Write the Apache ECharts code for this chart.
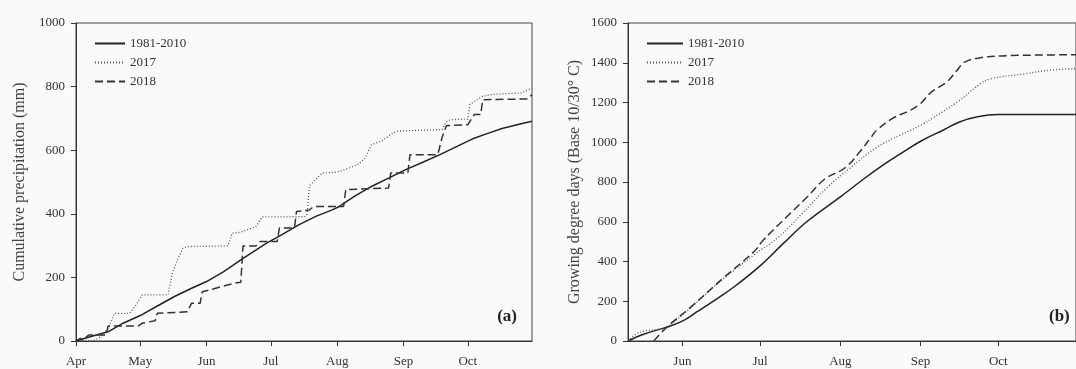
<!DOCTYPE html>
<html>
<head>
<meta charset="utf-8">
<script src="https://cdn.jsdelivr.net/npm/echarts@6/dist/echarts.min.js"></script>
<style>
html,body{margin:0;padding:0;background:#fcfaf9;}
#c{width:1076px;height:369px;}
</style>
</head>
<body>
<div id="c"></div>
<script>
// x values = days counted from 1 April (0 = Apr 1, 213 = Oct 31)
var monthStarts = [0, 30, 61, 91, 122, 153, 183];
var monthNames = ['Apr', 'May', 'Jun', 'Jul', 'Aug', 'Sep', 'Oct'];
var seriesNames = ['1981-2010', '2017', '2018'];

// (a) Cumulative precipitation (mm)
var precipNormal = [[0,0],[7,14],[15,29],[22,56],[30,80],[38,110],[46,140],[54,166],[61,187],[69,218],[77,255],[89,308],[95,330],[104,365],[112,392],[120,413],[123,423],[130,455],[138,486],[146,512],[154,539],[162,562],[170,586],[178,612],[185,635],[192,652],[199,668],[206,680],[213,691]];
var precip2017 = [[0,0],[8,0],[12,15],[15,40],[18,87],[25,87],[28,113],[31,145],[43,145],[45,213],[47,250],[50,292],[52,297],[71,299],[73,339],[77,342],[84,360],[87,390],[107,391],[108,400],[109,488],[115,528],[121,530],[126,540],[132,556],[135,575],[138,617],[143,630],[148,654],[150,660],[171,665],[173,690],[175,696],[183,698],[184,744],[188,762],[190,770],[195,776],[208,780],[213,796]];
var precip2018 = [[0,0],[2,8],[3,3],[6,19],[14,19],[15,47],[29,47],[31,56],[37,64],[38,87],[52,92],[54,119],[58,119],[59,155],[62,160],[74,182],[77,185],[78,299],[84,299],[86,313],[94,313],[95,355],[102,355],[103,407],[109,412],[111,423],[125,423],[126,476],[146,481],[147,528],[155,528],[156,586],[169,586],[171,640],[173,677],[183,680],[186,712],[189,712],[190,759],[211,761],[213,775]];

// (b) Growing degree days (Base 10/30 °C)
var gddNormal = [[40,0],[46,34],[55,70],[61,100],[67,150],[74,210],[81,273],[91,378],[100,491],[109,600],[122,725],[131,815],[139,890],[145,940],[153,1005],[162,1063],[168,1102],[175,1128],[183,1139],[213,1139]];
var gdd2017 = [[40,0],[43,34],[46,50],[52,59],[55,70],[64,165],[72,260],[77,315],[89,437],[98,521],[107,638],[117,773],[126,873],[136,974],[145,1035],[154,1092],[158,1125],[168,1210],[176,1294],[180,1319],[193,1344],[204,1364],[213,1370]];
var gdd2018 = [[50,0],[55,70],[64,168],[77,319],[89,454],[92,504],[101,621],[109,722],[116,815],[124,873],[130,960],[134,1027],[136,1060],[142,1119],[149,1161],[153,1195],[157,1251],[163,1302],[167,1361],[170,1403],[176,1425],[187,1436],[213,1440]];

var FONT = 'Liberation Serif';
var chart = echarts.init(document.getElementById('c'));

function monthLabel(v){ var i = monthStarts.indexOf(v); return i >= 0 ? monthNames[i] : ''; }

function xAxis(gi, min, ticks){
  return {
    type: 'value', gridIndex: gi, min: min, max: 213,
    axisLine: {show: true, onZero: false, lineStyle: {color: '#333', width: 1}},
    axisTick: {show: true, inside: false, length: 5, customValues: ticks, lineStyle: {color: '#333'}},
    axisLabel: {show: true, customValues: ticks, formatter: monthLabel, margin: 14,
      color: '#333', fontFamily: FONT, fontSize: 13},
    splitLine: {show: false}
  };
}
function yAxis(gi, max, title, gap){
  return {
    type: 'value', gridIndex: gi, min: 0, max: max, interval: 200,
    name: title, nameLocation: 'middle', nameGap: gap,
    nameTextStyle: {color: '#444', fontFamily: FONT, fontSize: 16},
    axisLine: {show: true, lineStyle: {color: '#333', width: 1}},
    axisTick: {show: true, inside: false, length: 5, lineStyle: {color: '#333'}},
    axisLabel: {margin: 11, color: '#333', fontFamily: FONT, fontSize: 13,
      formatter: function(v){ return String(v); }},
    splitLine: {show: false}
  };
}
var styles = [
  {color: '#222', width: 1.5, type: 'solid'},
  {color: '#555', width: 1.3, type: [1, 2]},
  {color: '#333', width: 1.5, type: [8, 4]}
];
function line(name, data, idx, gi, smooth){
  return {
    type: 'line', name: name, data: data, xAxisIndex: gi, yAxisIndex: gi,
    symbol: 'none', smooth: smooth ? 0.4 : false,
    lineStyle: styles[idx], itemStyle: {color: styles[idx].color},
    animation: false, clip: true
  };
}
function legend(left, w){
  return {data: seriesNames, orient: 'vertical', left: left, top: 32, itemWidth: w, itemHeight: 14, itemGap: 6,
    itemStyle: {opacity: 0},
    textStyle: {color: '#333', fontFamily: FONT, fontSize: 13}, selectedMode: false};
}

chart.setOption({
  backgroundColor: '#fcfaf9',
  animation: false,
  grid: [
    {left: 76, top: 23, width: 456, height: 318, show: true, borderColor: '#444', borderWidth: 1, backgroundColor: 'transparent'},
    {left: 628, top: 23, width: 457, height: 318, show: true, borderColor: '#444', borderWidth: 1, backgroundColor: 'transparent'}
  ],
  xAxis: [xAxis(0, 0, monthStarts), xAxis(1, 40, monthStarts.slice(2))],
  yAxis: [yAxis(0, 1000, 'Cumulative precipitation (mm)', 48), yAxis(1, 1600, 'Growing degree days (Base 10/30° C)', 45)],
  legend: [legend(89, 30), legend(641, 36)],
  graphic: [
    {type: 'text', right: 1076 - 517, top: 308, style: {text: '(a)', fill: '#222', font: 'bold 17px "Liberation Serif"'}},
    {type: 'text', left: 1049, top: 308, style: {text: '(b)', fill: '#222', font: 'bold 17px "Liberation Serif"'}}
  ],
  series: [
    line(seriesNames[0], precipNormal, 0, 0, false),
    line(seriesNames[1], precip2017, 1, 0, false),
    line(seriesNames[2], precip2018, 2, 0, false),
    line(seriesNames[0], gddNormal, 0, 1, true),
    line(seriesNames[1], gdd2017, 1, 1, true),
    line(seriesNames[2], gdd2018, 2, 1, true)
  ]
});
</script>
</body>
</html>
